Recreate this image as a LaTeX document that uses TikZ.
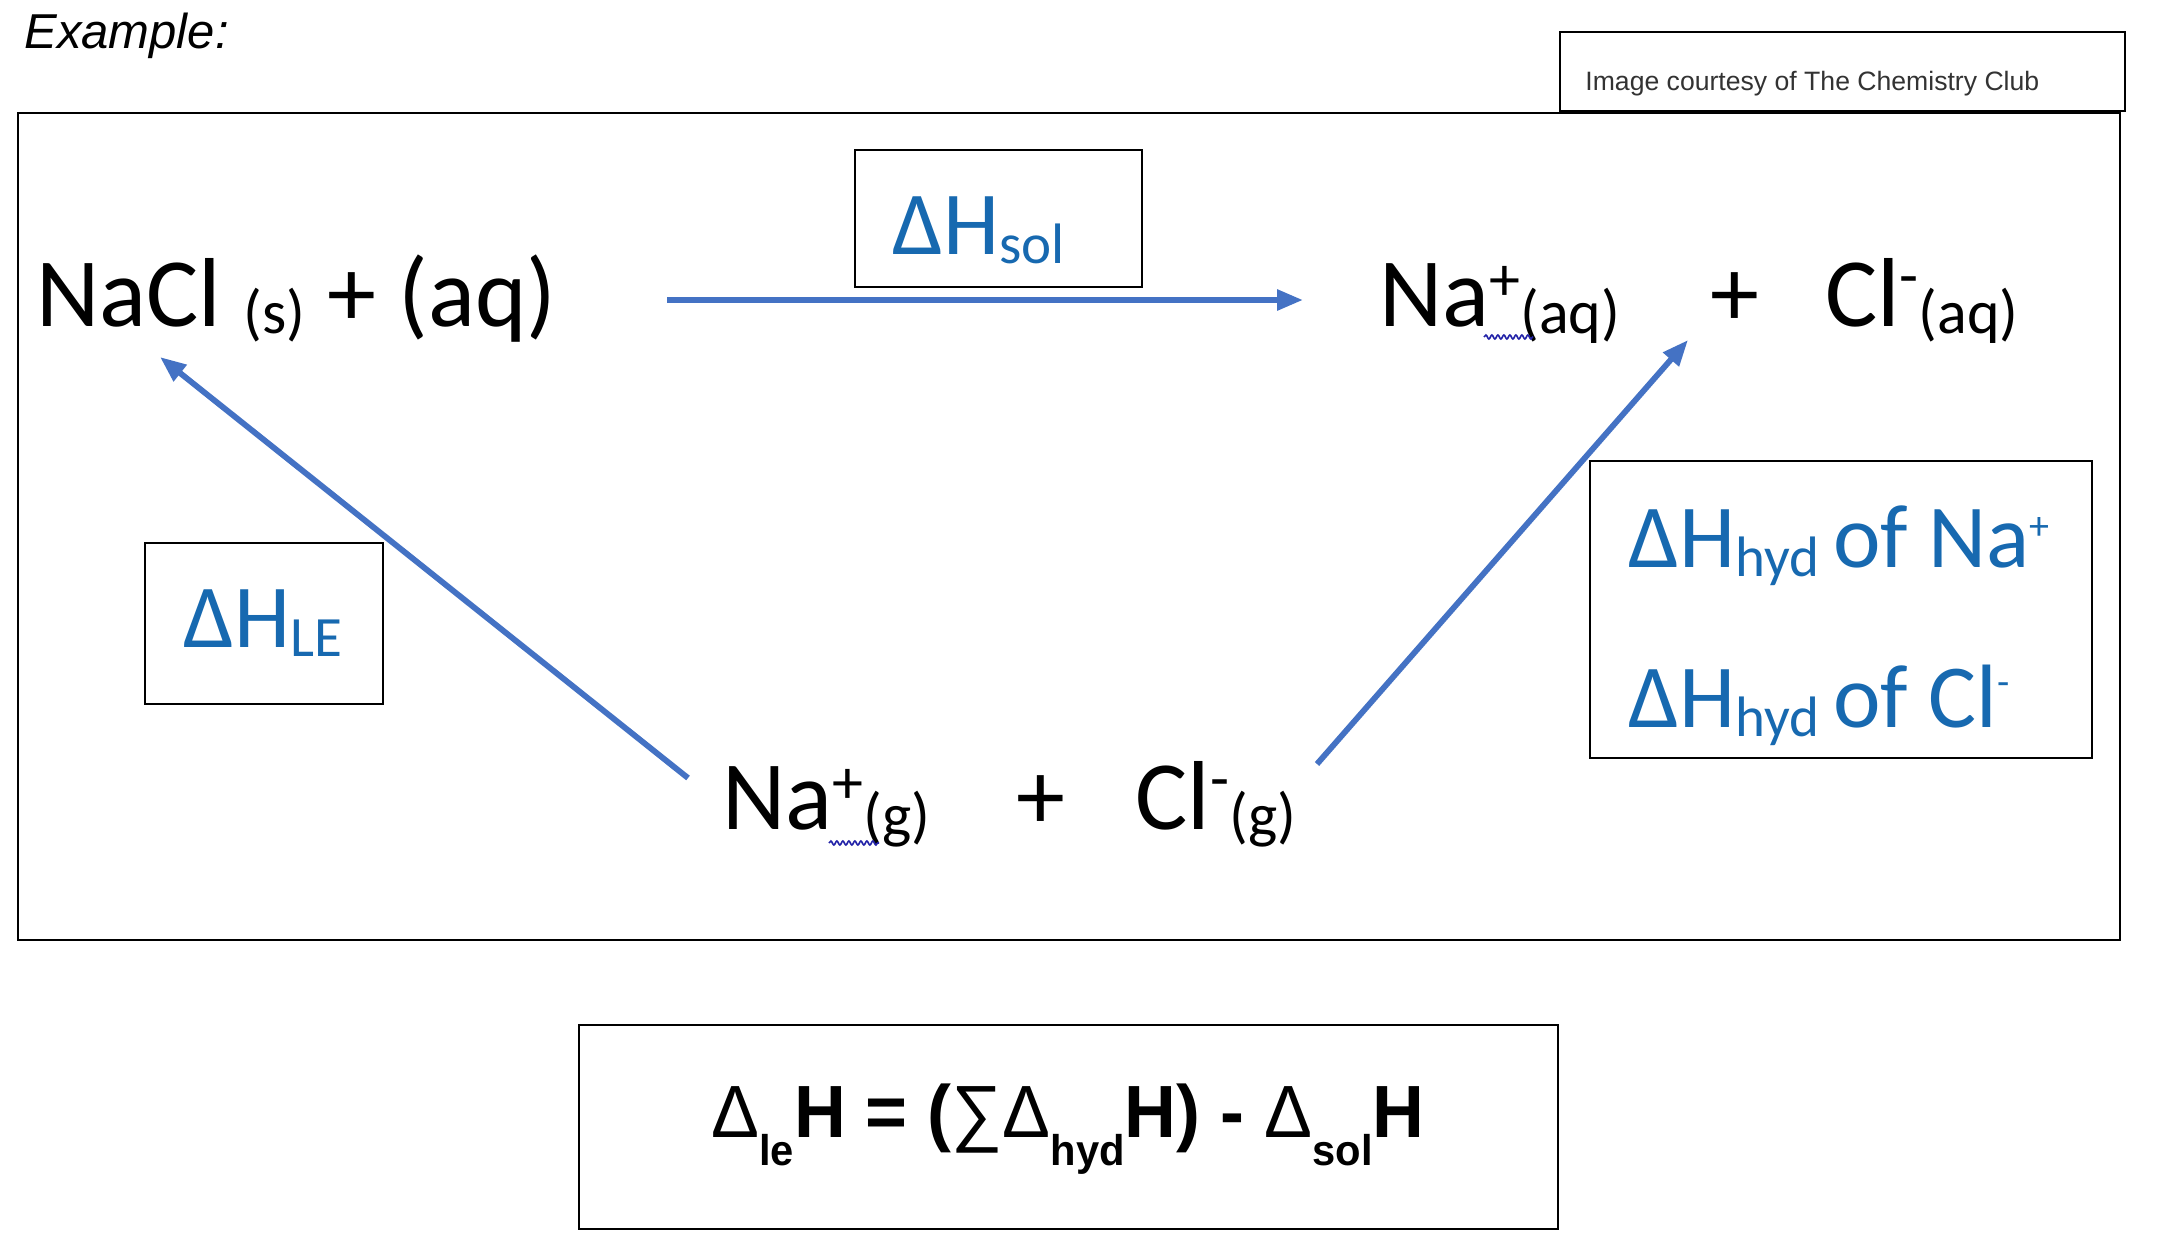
\documentclass[tikz,border=0pt]{standalone}
\usepackage{fontspec}
\setmainfont{Carlito}
\newfontfamily\arialfont{Liberation Sans}
\newfontfamily\formfont[FakeStretch=0.97]{Liberation Sans}
\usetikzlibrary{arrows.meta,decorations.pathmorphing}
\definecolor{arrowblue}{HTML}{4472C4}
\definecolor{labelblue}{HTML}{1769B0}
\definecolor{squig}{HTML}{2323A8}
\newcommand\bsub[1]{\raisebox{-3.5pt}{\fontsize{31}{31}\selectfont #1}}
\newcommand\bsup[1]{\raisebox{13pt}{\fontsize{31}{31}\selectfont #1}}
\newcommand\bsupm[1]{\raisebox{15pt}{\fontsize{31}{31}\selectfont #1}}
\newcommand\usub[1]{\raisebox{-4.5pt}{\fontsize{28.5}{28.5}\selectfont #1}}
\newcommand\usup[1]{\raisebox{14pt}{\fontsize{20}{20}\selectfont #1}}
\newcommand\usupm[1]{\raisebox{16pt}{\fontsize{20}{20}\selectfont #1}}
\newcommand\fsub[1]{\raisebox{-14pt}{\fontsize{21.5}{21.5}\selectfont #1}}
\tikzset{
  boxline/.style={draw=black, line width=1.4pt},
  chem/.style={anchor=base west, inner sep=0pt, font=\fontsize{49}{49}\selectfont},
  enth/.style={anchor=base west, inner sep=0pt, text=labelblue, font=\fontsize{45}{45}\selectfont},
  cycarrow/.style={draw=arrowblue, line width=2.9pt, -{Triangle[length=13pt,width=10pt]}},
  squiggle/.style={draw=squig, line width=0.8pt, decorate, decoration={snake, amplitude=1pt, segment length=3pt}}
}
\begin{document}
\begin{tikzpicture}[x=0.5pt, y=-0.5pt]
\useasboundingbox (0,0) rectangle (2178,1253);
\fill[white] (0,0) rectangle (2178,1253);

% title and credit
\node[anchor=base west, inner sep=0pt, font=\arialfont\itshape\fontsize{24.5}{24.5}\selectfont] (ex) at (24,48) {Example:};
\draw[boxline, fill=white] (1560,32) rectangle (2125,111);
\node[anchor=base west, inner sep=0pt, text=black!80, font=\arialfont\fontsize{13.3}{13.3}\selectfont] (credit) at (1585,90) {Image courtesy of The Chemistry Club};

% main frame
\draw[boxline] (18,113) rectangle (2120,940);

% species
\node[chem] (nacl) at (36,326) {NaCl \bsub{(s)} + (aq)};
\node[chem] (naaq) at (1379,326) {Na\bsup{+}\bsub{(aq)}\hspace{45pt}+\hspace{33pt}Cl\bsupm{-}\bsub{(aq)}};
\node[chem] (nag) at (722,829) {Na\bsup{+}\bsub{(g)}\hspace{43pt}+\hspace{35pt}Cl\bsupm{-}\bsub{(g)}};
\draw[squiggle] (1484,337) -- (1533,337);
\draw[squiggle] (829,843) -- (879,843);

% enthalpy label boxes
\draw[boxline] (855,150) rectangle (1142,287);
\node[enth] (hsol) at (892,254) {ΔH\usub{sol}};
\draw[boxline] (145,543) rectangle (383,704);
\node[enth] (hle) at (183,647) {ΔH\usub{LE}};
\draw[boxline] (1590,461) rectangle (2092,758);
\node[enth] (hhyd1) at (1628,567) {ΔH\usub{hyd}\hspace{7pt}of Na\usup{+}};
\node[enth] (hhyd2) at (1628,727) {ΔH\usub{hyd}\hspace{7pt}of Cl\usupm{-}};

% arrows
\coordinate (solA) at (667,300);
\coordinate (solB) at (1303,300);
\coordinate (leA) at (688,778);
\coordinate (leB) at (160,357);
\coordinate (hydA) at (1317,764);
\coordinate (hydB) at (1688,340);
\draw[cycarrow] (solA) -- (solB);
\draw[cycarrow] (leA) -- (leB);
\draw[cycarrow] (hydA) -- (hydB);

% formula
\draw[boxline] (579,1025) rectangle (1558,1229);
\node[anchor=base west, inner sep=0pt, font=\formfont\bfseries\fontsize{37}{37}\selectfont] (formula) at (711,1137)
  {{\mdseries Δ}\fsub{le}H = ({\mdseries ∑Δ}\fsub{hyd}H) - {\mdseries Δ}\fsub{sol}H};
\end{tikzpicture}
\end{document}
